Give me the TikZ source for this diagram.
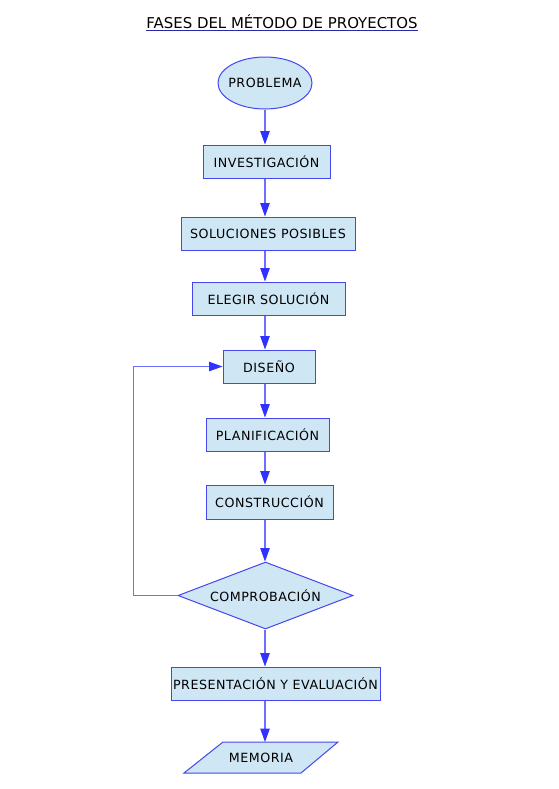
\documentclass[tikz,border=0pt]{standalone}
\usepackage{fontspec}
\setmainfont{DejaVu Sans}
\newfontfamily\boxfont[LetterSpace=4]{DejaVu Sans}
\usetikzlibrary{shapes.geometric,arrows.meta}
\newlength\pxu \setlength\pxu{0.75pt}
\definecolor{boxfill}{RGB}{207,230,245}
\definecolor{boxline}{RGB}{70,70,240}
\definecolor{conline}{RGB}{110,110,255}
\definecolor{tipcol}{RGB}{50,50,255}
\definecolor{titleline}{RGB}{40,40,170}
\begin{document}
\begin{tikzpicture}[x=0.75pt,y=-0.75pt,
  box/.style={draw=boxline, fill=boxfill, line width=0.75pt, minimum height=33\pxu, inner sep=0pt, font=\boxfont\fontsize{9.5}{11}\selectfont},
  flow/.style={draw=conline, line width=0.8pt, -{Triangle[length=10pt,width=7pt,color=tipcol]}},
  lbl/.style={font=\boxfont\fontsize{9.5}{11}\selectfont, inner sep=0pt}]
\fill[white] (0,0) rectangle (558,789);
\useasboundingbox (0,0) rectangle (558,789);
% title
\node[font=\fontsize{11.2}{13}\selectfont, inner sep=0pt, anchor=base] (title) at (282,28) {FASES DEL MÉTODO DE PROYECTOS};
\draw[titleline, line width=0.75pt] ([yshift=-1.6pt]title.base west) -- ([yshift=-1.6pt]title.base east);
% nodes
\node[box, ellipse, inner xsep=-4\pxu, minimum width=94\pxu, minimum height=52\pxu] (prob) at (265,83) {PROBLEMA};
\node[box, minimum width=127\pxu] (inv) at (266.5,161.5) {INVESTIGACIÓN};
\node[box, minimum width=174\pxu] (sol) at (268,233.5) {SOLUCIONES POSIBLES};
\node[box, minimum width=153\pxu] (ele) at (268.5,298.5) {ELEGIR SOLUCIÓN};
\node[box, minimum width=92\pxu] (dis) at (269,366.5) {DISEÑO};
\node[box, minimum width=123\pxu] (pla) at (267.5,434.5) {PLANIFICACIÓN};
\node[box, minimum width=127\pxu, minimum height=34\pxu] (con) at (269.5,502) {CONSTRUCCIÓN};
\node[box, diamond, aspect=2.6, minimum width=175\pxu, minimum height=67\pxu] (comp) at (265.5,595.5) {COMPROBACIÓN};
\node[box, minimum width=209\pxu] (pre) at (275.5,683.5) {PRESENTACIÓN Y EVALUACIÓN};
% memoria parallelogram
\coordinate (memTL) at (223,742);
\coordinate (memTR) at (338,742);
\coordinate (memBR) at (301,773);
\coordinate (memBL) at (184,773);
\filldraw[draw=boxline, fill=boxfill, line width=0.75pt] (memTL) -- (memTR) -- (memBR) -- (memBL) -- cycle;
\node[lbl] (mem) at (261,757.5) {MEMORIA};
% connectors
\draw[flow] (prob.south) -- (prob.south |- inv.north);
\draw[flow] (inv.south -| prob) -- (sol.north -| prob);
\draw[flow] (sol.south -| prob) -- (ele.north -| prob);
\draw[flow] (ele.south -| prob) -- (dis.north -| prob);
\draw[flow] (dis.south -| prob) -- (pla.north -| prob);
\draw[flow] (pla.south -| prob) -- (con.north -| prob);
\draw[flow] (con.south -| prob) -- (comp.north -| prob);
\draw[flow] (comp.south -| prob) -- (pre.north -| prob);
\draw[flow] (pre.south -| prob) -- (memTL -| prob);
\draw[flow] (comp.west) -- ++(-44,0) |- (dis.west);
\end{tikzpicture}
\end{document}
